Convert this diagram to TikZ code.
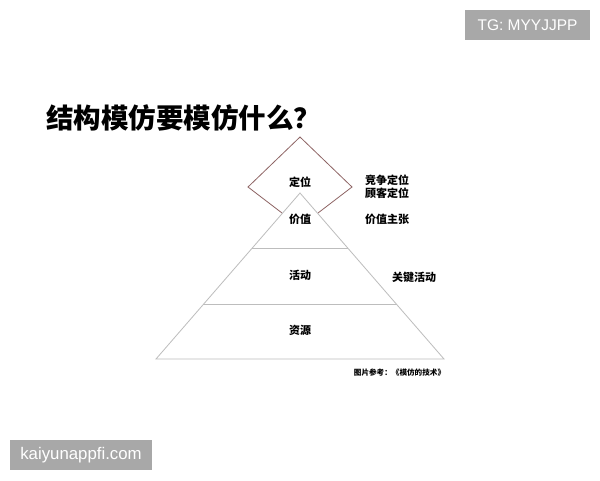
\documentclass[tikz,border=0pt]{standalone}
\usepackage{fontspec}
\setmainfont{Liberation Sans}
\newfontfamily\cjk{Noto Sans CJK SC}
\begin{document}
\begin{tikzpicture}[x=1pt,y=-1pt,
  lbl/.style={font=\cjk\bfseries\fontsize{11}{12}\selectfont,inner sep=0pt},
  wm/.style={fill=black!34,text=white,inner sep=0pt}]
\useasboundingbox[fill=white] (0,0) rectangle (600,480);
\definecolor{dia}{HTML}{8E6464}
\definecolor{tri}{HTML}{BDBDBD}
% watermarks
\node[wm,font=\fontsize{15.5}{17}\selectfont,minimum width=125pt,minimum height=30pt] (tg) at (527.5,25) {TG: MYYJJPP};
\node[wm,font=\fontsize{16.8}{18}\selectfont,minimum width=142pt,minimum height=30pt] (ky) at (81,455) {kaiyunappfi.com};
% title
\node[font=\cjk\bfseries\fontsize{27.5}{30}\selectfont,inner sep=0pt,anchor=west] (title) at (46,118) {结构模仿要模仿什么？};
% diamond (partial, hidden by triangle)
\coordinate (dT) at (300,137);
\coordinate (dL) at (248,187);
\coordinate (dR) at (352,187);
\coordinate (dBL) at (282,213);
\coordinate (dBR) at (318,213);
\draw[dia,line width=0.8pt] (dBL) -- (dL) -- (dT) -- (dR) -- (dBR);
% triangle
\coordinate (tA) at (300,193);
\coordinate (tBL) at (156,359);
\coordinate (tBR) at (444,359);
\draw[tri,line width=0.8pt] (tA) -- (tBL) -- (tBR) -- cycle;
\coordinate (l1L) at (252,248);
\coordinate (l1R) at (348,248);
\coordinate (l2L) at (203,304);
\coordinate (l2R) at (397,304);
\draw[tri,line width=0.8pt] (l1L) -- (l1R);
\draw[tri,line width=0.8pt] (l2L) -- (l2R);
% labels
\node[lbl] (dw) at (300,182) {定位};
\node[lbl] (jz) at (300,219) {价值};
\node[lbl] (hd) at (300,275) {活动};
\node[lbl] (zy) at (300,330) {资源};
\node[lbl] (jzdw) at (387,180) {竞争定位};
\node[lbl] (gkdw) at (387,193) {顾客定位};
\node[lbl] (jzzz) at (387,219) {价值主张};
\node[lbl] (gjhd) at (414,277) {关键活动};
\node[font=\cjk\bfseries\fontsize{7.6}{8}\selectfont,inner sep=0pt] (src) at (399.5,373) {图片参考：《模仿的技术》};
\end{tikzpicture}
\end{document}
